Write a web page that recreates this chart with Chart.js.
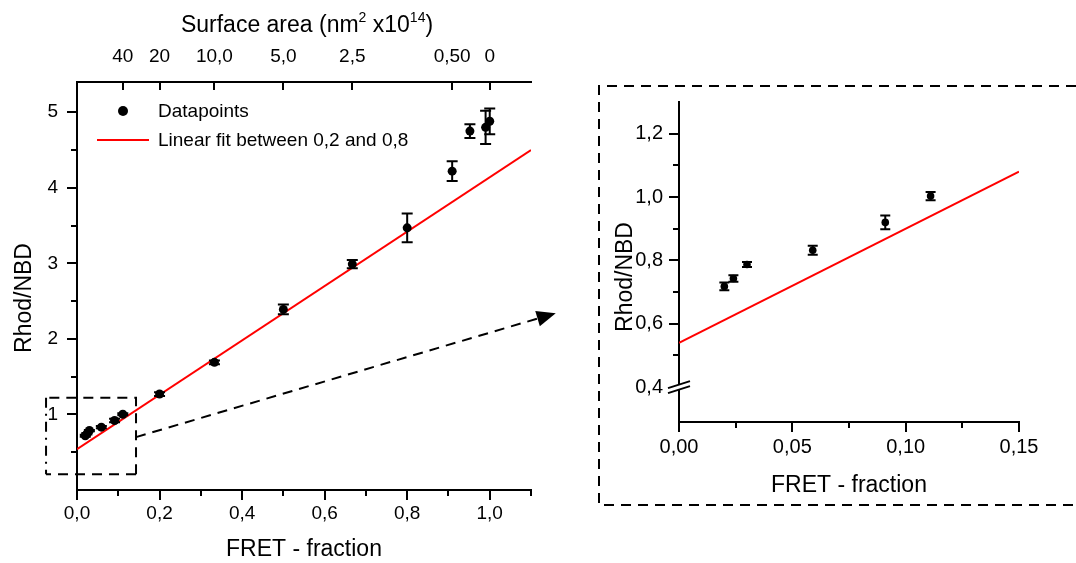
<!DOCTYPE html>
<html>
<head>
<meta charset="utf-8">
<script src="https://cdn.jsdelivr.net/npm/chart.js@4.4.0/dist/chart.umd.min.js"></script>
<style>
html, body { margin: 0; padding: 0; background: #fff; }
#wrap { position: relative; width: 1076px; height: 563px; }
#mainChart { position: absolute; left: 0; top: 0; }
#zoomChart { position: absolute; left: 590px; top: 0; }
</style>
</head>
<body>
<div id="wrap">
    <canvas id="mainChart" width="590" height="563"></canvas>
    <canvas id="zoomChart" width="486" height="563"></canvas>
</div>
<script>
//DATA
//==============================================
var fretFraction = [0.020, 0.024, 0.030, 0.059, 0.091, 0.111, 0.200, 0.333, 0.500, 0.667, 0.800, 0.909, 0.952, 0.990, 1.000];
var rhodNbd = [0.718, 0.743, 0.787, 0.832, 0.920, 1.003, 1.27, 1.69, 2.39, 2.99, 3.47, 4.22, 4.75, 4.80, 4.88];
var rhodNbdErr = [0.012, 0.010, 0.008, 0.014, 0.022, 0.013, 0.025, 0.025, 0.065, 0.055, 0.19, 0.13, 0.09, 0.22, 0.17];

//linear fit (0,2 - 0,8) end points
var fitFret = [0, 1.1];
var fitRhod = [0.54, 4.50];
var insetFitFret = [0, 0.15];
var insetFitRhod = [0.54, 1.08];

//top axis: surface area
var surfaceTickFret = [0.111, 0.200, 0.333, 0.500, 0.667, 0.909, 1.000];
var surfaceTickLabels = ["40", "20", "10,0", "5,0", "2,5", "0,50", "0"];

//tick values
var mainXTicks = [0, 0.2, 0.4, 0.6, 0.8, 1.0];
var mainXMinor = [0.1, 0.3, 0.5, 0.7, 0.9, 1.1];
var mainYTicks = [1, 2, 3, 4, 5];
var mainYMinor = [0.5, 1.5, 2.5, 3.5, 4.5];
var insetXTicks = [0, 0.05, 0.10, 0.15];
var insetXMinor = [0.025, 0.075, 0.125];
var insetYTicks = [0.4, 0.6, 0.8, 1.0, 1.2];
var insetYMinor = [0.5, 0.7, 0.9, 1.1];

var FONT = "'Liberation Sans', Arial, sans-serif";

function xy(xs, ys) {
    return xs.map(function (x, i) { return {x: x, y: ys[i]}; });
}

function comma(v, d) {
    return Number(v).toFixed(d).replace('.', ',');
}

//error bars for the first dataset
var errorBars = {
    id: 'errorBars',
    afterDatasetsDraw: function (chart, args, opts) {
        var ctx = chart.ctx, xs = chart.scales.x, ys = chart.scales.y, a = chart.chartArea;
        ctx.save();
        ctx.strokeStyle = '#000';
        ctx.lineWidth = 2;
        fretFraction.forEach(function (f, i) {
            if (f < xs.min || f > xs.max) return;
            var px = xs.getPixelForValue(f);
            var top = ys.getPixelForValue(rhodNbd[i] + rhodNbdErr[i]);
            var bot = ys.getPixelForValue(rhodNbd[i] - rhodNbdErr[i]);
            if (top < a.top || bot > a.bottom) return;
            ctx.beginPath();
            ctx.moveTo(px, top); ctx.lineTo(px, bot);
            ctx.moveTo(px - opts.cap, top); ctx.lineTo(px + opts.cap, top);
            ctx.moveTo(px - opts.cap, bot); ctx.lineTo(px + opts.cap, bot);
            ctx.stroke();
        });
        ctx.restore();
    }
};

//major and minor tick marks (chart.js has no minor ticks)
var tickMarks = {
    id: 'tickMarks',
    afterDraw: function (chart, args, opts) {
        var ctx = chart.ctx, a = chart.chartArea;
        ctx.save();
        ctx.strokeStyle = '#000';
        ctx.lineWidth = 2;
        opts.marks.forEach(function (m) {
            var scale = chart.scales[m.axis];
            m.values.forEach(function (v) {
                var p = Math.round(scale.getPixelForValue(v));
                ctx.beginPath();
                if (scale.isHorizontal()) {
                    var y0 = scale.position === 'top' ? a.top : a.bottom;
                    ctx.moveTo(p, y0); ctx.lineTo(p, y0 + m.dir * m.len);
                } else {
                    ctx.moveTo(a.left, p); ctx.lineTo(a.left + m.dir * m.len, p);
                }
                ctx.stroke();
            });
        });
        ctx.restore();
    }
};

//axis titles drawn by hand (superscripts, off-centre y titles)
var axisTitles = {
    id: 'axisTitles',
    afterDraw: function (chart, args, opts) {
        var ctx = chart.ctx;
        ctx.save();
        ctx.fillStyle = '#000';
        ctx.textBaseline = 'alphabetic';
        (opts.items || []).forEach(function (t) {
            ctx.save();
            ctx.translate(t.x, t.y);
            if (t.rotate) ctx.rotate(-Math.PI / 2);
            //measure all parts first, then center
            var total = 0;
            t.parts.forEach(function (p) {
                ctx.font = (p.sup ? 14 : 23) + 'px ' + FONT;
                total += ctx.measureText(p.text).width;
            });
            var cx = -total / 2;
            t.parts.forEach(function (p) {
                ctx.font = (p.sup ? 14 : 23) + 'px ' + FONT;
                ctx.fillText(p.text, cx, p.sup ? -10 : 0);
                cx += ctx.measureText(p.text).width;
            });
            ctx.restore();
        });
        ctx.restore();
    }
};

//legend inside the plot
var innerLegend = {
    id: 'innerLegend',
    afterDraw: function (chart, args, opts) {
        if (!opts.show) return;
        var ctx = chart.ctx, ds = chart.data.datasets;
        ctx.save();
        ctx.font = '19px ' + FONT;
        ctx.textBaseline = 'middle';
        ctx.fillStyle = '#000';
        ctx.beginPath();
        ctx.arc(123, 111, 5, 0, Math.PI * 2);
        ctx.fill();
        ctx.fillText(ds[0].label, 158, 112);
        ctx.strokeStyle = ds[1].borderColor;
        ctx.lineWidth = 2;
        ctx.beginPath();
        ctx.moveTo(97, 140); ctx.lineTo(149, 140);
        ctx.stroke();
        ctx.fillText(ds[1].label, 158, 141);
        ctx.restore();
    }
};

//dashed zoom box and arrow on the main chart
var zoomPointer = {
    id: 'zoomPointer',
    afterDraw: function (chart, args, opts) {
        if (!opts.box) return;
        var ctx = chart.ctx, xs = chart.scales.x, ys = chart.scales.y;
        var x0 = xs.getPixelForValue(opts.box[0]), x1 = xs.getPixelForValue(opts.box[1]);
        var y0 = ys.getPixelForValue(opts.box[2]), y1 = ys.getPixelForValue(opts.box[3]);
        ctx.save();
        ctx.strokeStyle = '#000';
        ctx.lineWidth = 2;
        ctx.setLineDash([10, 7]);
        ctx.beginPath();
        ctx.moveTo(x1, y0); ctx.lineTo(x1, y1); ctx.lineTo(x0, y1);
        ctx.moveTo(x1, y0); ctx.lineTo(x0, y0);
        ctx.stroke();
        //left side is dash-dot
        ctx.setLineDash([10, 6, 2, 6]);
        ctx.beginPath();
        ctx.moveTo(x0, y1); ctx.lineTo(x0, y0);
        ctx.stroke();
        ctx.setLineDash([10, 7]);
        var sx = x1, sy = ys.getPixelForValue(opts.arrow[0]);
        var tx = xs.getPixelForValue(opts.arrow[1]), ty = ys.getPixelForValue(opts.arrow[2]);
        var ang = Math.atan2(ty - sy, tx - sx);
        var ex = tx - 19 * Math.cos(ang), ey = ty - 19 * Math.sin(ang);
        ctx.beginPath();
        ctx.moveTo(sx, sy); ctx.lineTo(ex, ey);
        ctx.stroke();
        ctx.setLineDash([]);
        ctx.fillStyle = '#000';
        ctx.beginPath();
        ctx.moveTo(tx, ty);
        ctx.lineTo(ex + 8 * Math.sin(ang), ey - 8 * Math.cos(ang));
        ctx.lineTo(ex - 8 * Math.sin(ang), ey + 8 * Math.cos(ang));
        ctx.closePath();
        ctx.fill();
        ctx.restore();
    }
};

//dashed frame and axis break on the inset
var insetFrame = {
    id: 'insetFrame',
    afterDraw: function (chart, args, opts) {
        if (!opts.show) return;
        var ctx = chart.ctx, a = chart.chartArea, ys = chart.scales.y;
        ctx.save();
        ctx.strokeStyle = '#000';
        ctx.lineWidth = 2;
        ctx.setLineDash([10, 7]);
        ctx.beginPath();
        ctx.moveTo(chart.width, 86); ctx.lineTo(9, 86); ctx.lineTo(9, 505); ctx.lineTo(chart.width, 505);
        ctx.stroke();
        ctx.setLineDash([]);
        //y axis goes below the x axis like the 0,00 tick
        ctx.beginPath();
        ctx.moveTo(a.left, a.bottom); ctx.lineTo(a.left, a.bottom + 10);
        ctx.stroke();
        var by = ys.getPixelForValue(0.4);
        ctx.fillStyle = '#fff';
        ctx.beginPath();
        ctx.moveTo(a.left - 12, by + 1); ctx.lineTo(a.left + 12, by - 7);
        ctx.lineTo(a.left + 12, by - 2); ctx.lineTo(a.left - 12, by + 6);
        ctx.closePath();
        ctx.fill();
        ctx.beginPath();
        ctx.moveTo(a.left - 11, by + 1); ctx.lineTo(a.left + 11, by - 6);
        ctx.moveTo(a.left - 11, by + 6); ctx.lineTo(a.left + 11, by - 1);
        ctx.stroke();
        ctx.restore();
    }
};

Chart.register(errorBars, tickMarks, axisTitles, innerLegend, zoomPointer, insetFrame);

//main chart
new Chart(document.getElementById("mainChart").getContext("2d"), {
    type: 'scatter',
    data: {
        datasets: [
            {
                label: "Datapoints",
                data: xy(fretFraction, rhodNbd),
                backgroundColor: "#000000",
                borderWidth: 0,
                pointRadius: 4.5
            },
            {
                label: "Linear fit between 0,2 and 0,8",
                type: 'line',
                data: xy(fitFret, fitRhod),
                borderColor: "#ff0000",
                borderWidth: 2,
                pointRadius: 0,
                fill: false
            }]
    },
    options: {
        responsive: false,
        animation: false,
        layout: {padding: {left: 0, top: 0, right: 59, bottom: 0}},
        plugins: {
            legend: {display: false},
            tooltip: {enabled: false},
            errorBars: {cap: 5.5},
            innerLegend: {show: true},
            zoomPointer: {box: [-0.075, 0.143, 0.21, 1.22], arrow: [0.70, 1.16, 2.34]},
            axisTitles: {
                items: [
                    {x: 307, y: 32, parts: [{text: 'Surface area (nm'}, {text: '2', sup: true}, {text: ' x10'}, {text: '14', sup: true}, {text: ')'}]},
                    {x: 31, y: 298, rotate: true, parts: [{text: 'Rhod/NBD'}]}
                ]
            },
            tickMarks: {
                marks: [
                    {axis: 'x', values: mainXTicks, dir: 1, len: 10},
                    {axis: 'x', values: mainXMinor, dir: 1, len: 6},
                    {axis: 'y', values: mainYTicks, dir: -1, len: 10},
                    {axis: 'y', values: mainYMinor, dir: -1, len: 6},
                    {axis: 'x2', values: surfaceTickFret, dir: 1, len: 8}
                ]
            }
        },
        scales: {
            x: {
                type: 'linear', position: 'bottom', min: 0, max: 1.1,
                afterFit: function (s) { s.height = 73; },
                afterBuildTicks: function (s) { s.ticks = mainXTicks.map(function (v) { return {value: v}; }); },
                grid: {display: false, drawTicks: false},
                border: {display: true, color: '#000', width: 2},
                ticks: {color: '#000', font: {family: FONT, size: 19}, padding: 12, maxRotation: 0, autoSkip: false,
                    callback: function (v) { return comma(v, 1); }},
                title: {display: true, text: 'FRET - fraction', color: '#000', font: {family: FONT, size: 23}, padding: {top: 0, bottom: 0}}
            },
            x2: {
                type: 'linear', position: 'top', min: 0, max: 1.1,
                afterFit: function (s) { s.height = 82; },
                afterBuildTicks: function (s) { s.ticks = surfaceTickFret.map(function (v) { return {value: v}; }); },
                grid: {display: false, drawTicks: false},
                border: {display: true, color: '#000', width: 2},
                ticks: {color: '#000', font: {family: FONT, size: 19}, padding: 14, maxRotation: 0, autoSkip: false,
                    callback: function (v, i) { return surfaceTickLabels[i]; }}
            },
            y: {
                type: 'linear', position: 'left', min: 0, max: 5.4,
                afterFit: function (s) { s.width = 77; },
                afterBuildTicks: function (s) { s.ticks = mainYTicks.map(function (v) { return {value: v}; }); },
                grid: {display: false, drawTicks: false},
                border: {display: true, color: '#000', width: 2},
                ticks: {color: '#000', font: {family: FONT, size: 19}, padding: 19,
                    callback: function (v) { return String(v); }}
            }
        }
    }
});

//zoomed inset chart
new Chart(document.getElementById("zoomChart").getContext("2d"), {
    type: 'scatter',
    data: {
        datasets: [
            {
                label: "Datapoints",
                data: xy(fretFraction, rhodNbd),
                backgroundColor: "#000000",
                borderWidth: 0,
                pointRadius: 3.8
            },
            {
                label: "Linear fit between 0,2 and 0,8",
                type: 'line',
                data: xy(insetFitFret, insetFitRhod),
                borderColor: "#ff0000",
                borderWidth: 2,
                pointRadius: 0,
                fill: false
            }]
    },
    options: {
        responsive: false,
        animation: false,
        layout: {padding: {left: 0, top: 102, right: 57, bottom: 58}},
        plugins: {
            legend: {display: false},
            tooltip: {enabled: false},
            errorBars: {cap: 5},
            insetFrame: {show: true},
            axisTitles: {
                items: [
                    {x: 42, y: 277, rotate: true, parts: [{text: 'Rhod/NBD'}]}
                ]
            },
            tickMarks: {
                marks: [
                    {axis: 'x', values: insetXTicks.slice(1), dir: 1, len: 10},
                    {axis: 'x', values: insetXMinor, dir: 1, len: 6},
                    {axis: 'y', values: insetYTicks.slice(1), dir: -1, len: 10},
                    {axis: 'y', values: insetYMinor, dir: -1, len: 6}
                ]
            }
        },
        scales: {
            x: {
                type: 'linear', position: 'bottom', min: 0, max: 0.15,
                afterFit: function (s) { s.height = 83; },
                afterBuildTicks: function (s) { s.ticks = insetXTicks.map(function (v) { return {value: v}; }); },
                grid: {display: false, drawTicks: false},
                border: {display: true, color: '#000', width: 2},
                ticks: {color: '#000', font: {family: FONT, size: 20}, padding: 13, maxRotation: 0, autoSkip: false,
                    callback: function (v) { return comma(v, 2); }},
                title: {display: true, text: 'FRET - fraction', color: '#000', font: {family: FONT, size: 23}, padding: {top: 0, bottom: 6}}
            },
            y: {
                type: 'linear', position: 'left', min: 0.29, max: 1.3,
                afterFit: function (s) { s.width = 89; },
                afterBuildTicks: function (s) { s.ticks = insetYTicks.map(function (v) { return {value: v}; }); },
                grid: {display: false, drawTicks: false},
                border: {display: true, color: '#000', width: 2},
                ticks: {color: '#000', font: {family: FONT, size: 20}, padding: 16,
                    callback: function (v) { return comma(v, 1); }}
            }
        }
    }
});
</script>
</body>
</html>
